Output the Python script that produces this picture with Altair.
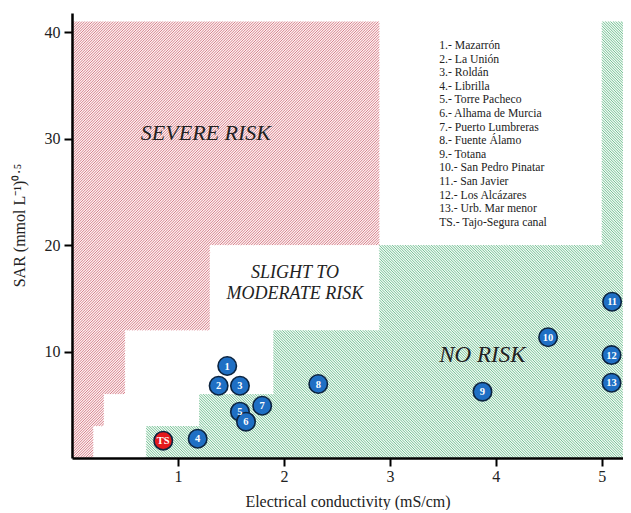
import math
import altair as alt
import pandas as pd

# ---------------- data ----------------
site_ids = ["1", "2", "3", "4", "5", "6", "7", "8", "9", "10", "11", "12", "13", "TS"]
site_ec = [1.465, 1.384, 1.585, 1.186, 1.585, 1.642, 1.795, 2.324, 3.874, 4.493, 5.097, 5.092, 5.092, 0.861]
site_sar = [8.64, 6.79, 6.79, 1.81, 4.35, 3.41, 4.91, 6.95, 6.23, 11.34, 14.68, 9.67, 7.07, 1.63]

legend_lines = [
    "1.- Mazarrón", "2.- La Unión", "3.- Roldán", "4.- Librilla", "5.- Torre Pacheco",
    "6.- Alhama de Murcia", "7.- Puerto Lumbreras", "8.- Fuente Álamo", "9.- Totana",
    "10.- San Pedro Pinatar", "11.- San Javier", "12.- Los Alcázares",
    "13.- Urb. Mar menor", "TS.- Tajo-Segura canal",
]

# FAO infiltration-hazard thresholds per SAR band
sar_bands = [0, 3, 6, 12, 20, 41]
severe_ec = [0.2, 0.3, 0.5, 1.3, 2.9]   # EC below -> severe
none_ec = [0.7, 1.2, 1.9, 2.9, 5.0]     # EC above -> no risk
ec_end = 5.2

zone_labels = ["SEVERE RISK", "SLIGHT TO\nMODERATE RISK", "NO RISK"]
zone_x = [1.264, 2.104, 3.873]
zone_y = [30.53, 17.42, 9.67]
zone_fs = [22, 18, 23]

x_ticks = [1, 2, 3, 4, 5]
y_ticks = [10, 20, 30, 40]

# ---------------- layout ----------------
W, H = 551, 445
X_DOM = [0, 5.2]
Y_DOM = [0, 41.8]
SX = W / (X_DOM[1] - X_DOM[0])
SY = H / (Y_DOM[1] - Y_DOM[0])
STEP = 2.6  # hatch spacing (px, along axis)

red_rects = [(0, severe_ec[i], sar_bands[i], sar_bands[i + 1]) for i in range(5)]
green_rects = [(none_ec[i], ec_end, sar_bands[i], sar_bands[i + 1]) for i in range(5)]


def rect_df(rects):
    return pd.DataFrame([{"x": a, "x2": b, "y": c, "y2": d} for a, b, c, d in rects])


def hatch_df(rects, direction):
    rows = []
    for x0, x1, y0, y1 in rects:
        a, b, c, d = x0 * SX, x1 * SX, y0 * SY, y1 * SY
        if direction == "/":
            k0, k1 = math.ceil((c - b) / STEP), math.floor((d - a) / STEP)
            for k in range(k0, k1 + 1):
                K = k * STEP
                ps, pe = max(a, c - K), min(b, d - K)
                if pe > ps:
                    rows.append({"x": ps / SX, "y": (ps + K) / SY, "x2": pe / SX, "y2": (pe + K) / SY})
        else:
            k0, k1 = math.ceil((a + c) / STEP), math.floor((b + d) / STEP)
            for k in range(k0, k1 + 1):
                K = k * STEP
                ps, pe = max(a, K - d), min(b, K - c)
                if pe > ps:
                    rows.append({"x": ps / SX, "y": (K - ps) / SY, "x2": pe / SX, "y2": (K - pe) / SY})
    return pd.DataFrame(rows)


FONT = "Liberation Serif"

xs = alt.Scale(domain=X_DOM, nice=False, zero=False)
ys = alt.Scale(domain=Y_DOM, nice=False, zero=False)

x_axis = alt.Axis(values=x_ticks, format="d", title="Electrical conductivity (mS/cm)",
                  titleY=43, titleBaseline="middle", labelPadding=2, zindex=1)
y_axis = alt.Axis(values=y_ticks, format="d", title="SAR (mmol L⁻¹)⁰·⁵",
                  titleX=-53, titleY=212, titleAngle=-90, titleAlign="center",
                  titleBaseline="middle", labelPadding=4, zindex=1)


def rects_layer(df, color):
    return alt.Chart(df).mark_rect(color=color).encode(
        x=alt.X("x:Q", scale=xs, axis=x_axis), x2="x2:Q",
        y=alt.Y("y:Q", scale=ys, axis=y_axis), y2="y2:Q")


def hatch_layer(df, color):
    return alt.Chart(df).mark_rule(color=color, strokeWidth=1, strokeCap="butt").encode(
        x=alt.X("x:Q", scale=xs, axis=x_axis), x2="x2:Q",
        y=alt.Y("y:Q", scale=ys, axis=y_axis), y2="y2:Q")


red_base = rects_layer(rect_df(red_rects), "#fcf0f1")
green_base = rects_layer(rect_df(green_rects), "#f0f9f3")
red_hatch = hatch_layer(hatch_df(red_rects, "/"), "#d8838d")
green_hatch = hatch_layer(hatch_df(green_rects, "\\"), "#7ac399")

zones = alt.Chart(pd.DataFrame({"t": zone_labels, "x": zone_x, "y": zone_y, "fs": zone_fs})).mark_text(
    font=FONT, fontStyle="italic", color="#222", lineBreak="\n", lineHeight=21.6,
    align="center", baseline="middle").encode(
    x=alt.X("x:Q", scale=xs, axis=x_axis), y=alt.Y("y:Q", scale=ys, axis=y_axis),
    text="t:N", size=alt.Size("fs:Q", scale=None, legend=None))

legend_txt = alt.Chart(pd.DataFrame({"x": [3.465], "y": [38.79]})).mark_text(
    text=legend_lines, font=FONT, fontSize=11.7, color="#222", align="left",
    baseline="middle", lineHeight=13.6).encode(
    x=alt.X("x:Q", scale=xs, axis=x_axis), y=alt.Y("y:Q", scale=ys, axis=y_axis))

pts = pd.DataFrame({"id": site_ids, "ec": site_ec, "sar": site_sar})
pts["canal"] = pts["id"] == "TS"

circ = alt.Chart(pts).mark_circle(size=340, opacity=1, stroke="#0c2440", strokeWidth=1.6).encode(
    x=alt.X("ec:Q", scale=xs, axis=x_axis), y=alt.Y("sar:Q", scale=ys, axis=y_axis),
    fill=alt.condition("datum.canal", alt.value("#e3191c"), alt.value("#1f6fc4")))

lab = alt.Chart(pts).mark_text(font=FONT, fontWeight="bold", fontSize=10.5, color="white",
                               align="center", baseline="middle", dy=0.5).encode(
    x=alt.X("ec:Q", scale=xs, axis=x_axis), y=alt.Y("sar:Q", scale=ys, axis=y_axis), text="id:N")

chart = alt.layer(red_base, green_base, red_hatch, green_hatch, zones, legend_txt, circ, lab).properties(
    width=W, height=H,
    autosize=alt.AutoSizeParams(type="none"),
    padding={"left": 64, "top": 5, "right": 0, "bottom": 52},
).configure_view(stroke=None).configure_axis(
    grid=False, domainColor="black", domainWidth=2.5, tickColor="black", tickWidth=2,
    tickSize=8, labelFont=FONT, labelFontSize=16, labelColor="#222",
    titleFont=FONT, titleFontSize=16, titleFontWeight="normal", titleColor="#222",
)

chart.save("out.html", embed_options={"renderer": "svg", "actions": False})
